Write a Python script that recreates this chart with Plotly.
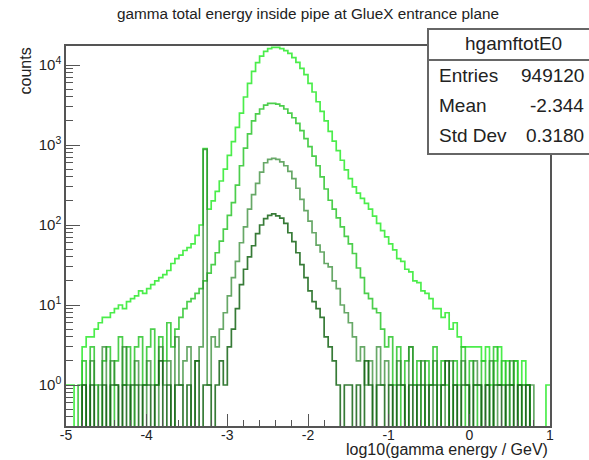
import numpy as np
import plotly.graph_objects as go

# ---------------- data (counts per bin) ----------------
x_lo, x_hi, n_bins = -5.0, 1.0, 120

total_E0 = [
    1, 1, 0, 0, 3, 4, 4, 5, 6, 7,
    7, 8, 9, 10, 9, 11, 12, 13, 15, 14,
    16, 18, 20, 22, 24, 27, 33, 38, 42, 48,
    52, 58, 74, 100, 900, 158, 200, 263, 355, 500,
    741, 1100, 1660, 2510, 3980, 5890, 8320, 10700, 12900, 14800,
    16000, 16600, 16600, 16000, 15100, 14000, 12400, 10800, 9100, 7600,
    5900, 4600, 3470, 2630, 2000, 1480, 1120, 850, 645, 490,
    380, 300, 250, 215, 186, 158, 129, 105, 85, 71,
    58, 49, 38, 35, 28, 26, 20, 19, 15, 14,
    12, 9, 9, 7, 8, 5, 6, 4, 3, 3,
    3, 3, 3, 2, 3, 1, 2, 3, 1, 2,
    1, 2, 1, 2, 1, 0, 0, 0, 0, 1,
]
comp_2 = [
    0, 0, 0, 1, 2, 0, 3, 1, 0, 2,
    3, 0, 2, 4, 1, 3, 0, 3, 4, 1,
    3, 5, 1, 4, 2, 6, 3, 5, 7, 9,
    11, 12, 14, 16, 20, 25, 32, 45, 63, 89,
    132, 190, 316, 550, 912, 1380, 2000, 2450, 2820, 3160,
    3310, 3310, 3240, 3090, 2820, 2510, 2190, 1860, 1510, 1200,
    955, 725, 550, 400, 282, 204, 158, 123, 95, 72,
    58, 44, 29, 22, 14, 12, 9, 8, 5, 3,
    4, 1, 3, 0, 2, 3, 1, 2, 0, 2,
    1, 3, 0, 2, 1, 0, 2, 1, 3, 0,
    2, 1, 0, 2, 1, 0, 3, 1, 2, 0,
    1, 2, 0, 1, 1, 0, 0, 0, 0, 0,
]
comp_3 = [
    0, 0, 0, 0, 1, 0, 2, 0, 1, 3,
    0, 2, 1, 0, 3, 1, 0, 2, 1, 0,
    2, 1, 0, 3, 1, 2, 0, 4, 1, 2,
    3, 0, 2, 3, 880, 1, 4, 3, 5, 8,
    13, 22, 35, 60, 95, 158, 240, 331, 457, 600,
    660, 680, 660, 617, 550, 468, 380, 288, 209, 151,
    112, 80, 56, 46, 33, 30, 20, 16, 10, 8,
    6, 4, 2, 3, 1, 2, 0, 3, 1, 2,
    1, 0, 2, 1, 0, 3, 1, 0, 2, 1,
    0, 2, 1, 1, 0, 2, 1, 0, 2, 1,
    0, 2, 1, 0, 1, 2, 0, 1, 1, 0,
    2, 0, 1, 1, 0, 1, 0, 0, 0, 0,
]
comp_4 = [
    0, 0, 0, 0, 1, 0, 1, 0, 0, 1,
    0, 1, 1, 0, 1, 0, 1, 1, 0, 1,
    1, 0, 1, 2, 0, 1, 0, 1, 1, 0,
    1, 0, 2, 0, 1, 1, 0, 1, 2, 1,
    3, 5, 9, 18, 28, 40, 55, 78, 100, 120,
    132, 138, 130, 122, 105, 80, 62, 45, 32, 22,
    15, 11, 9, 7, 4, 3, 2, 1, 0, 1,
    1, 0, 1, 0, 2, 1, 0, 1, 1, 0,
    1, 0, 1, 1, 0, 1, 0, 1, 1, 0,
    1, 1, 0, 1, 2, 0, 1, 0, 1, 1,
    0, 1, 1, 0, 1, 0, 1, 1, 0, 1,
    1, 0, 1, 0, 1, 0, 0, 0, 0, 0,
]

x_tick_vals = [-5, -4, -3, -2, -1, 0, 1]
x_tick_text = ["-5", "-4", "-3", "-2", "-1", "0", "1"]
y_tick_vals = [1, 10, 100, 1000, 10000]
y_tick_text = ["10<sup>0</sup>", "10<sup>1</sup>", "10<sup>2</sup>", "10<sup>3</sup>", "10<sup>4</sup>"]

title_text = "gamma total energy inside pipe at GlueX entrance plane"
x_title = "log10(gamma energy / GeV)"
y_title = "counts"
stat_name = "hgamftotE0"
stat_labels = ["Entries", "Mean", "Std Dev"]
stat_values = ["949120", "-2.344", "0.3180"]

# ---------------- styling ----------------
series = [
    (total_E0, "rgba(55,235,55,0.90)"),
    (comp_2, "rgba(45,198,45,0.85)"),
    (comp_3, "rgba(45,135,45,0.72)"),
    (comp_4, "rgba(20,100,20,0.85)"),
]
FONT = "Liberation Sans, Arial, sans-serif"
TXT = "#222222"
FRAME = "#555555"

edges = np.linspace(x_lo, x_hi, n_bins + 1)

fig = go.Figure()
for vals, col in series:
    v = np.asarray(vals, dtype=float)
    v = np.where(v > 0, v, 1e-3)  # empty bins drop to the frame bottom
    fig.add_trace(go.Scatter(
        x=edges, y=np.append(v, v[-1]), mode="lines",
        line=dict(shape="hv", color=col, width=1.7),
        hoverinfo="skip", showlegend=False))

minor_y = [m * 10.0 ** e for e in range(-1, 5) for m in range(2, 10)]

fig.update_layout(
    width=589, height=460,
    margin=dict(l=66, r=39, t=46, b=34),
    paper_bgcolor="white", plot_bgcolor="white",
    font=dict(family=FONT, color=TXT),
    showlegend=False,
    title=dict(text=title_text, x=0.5, xref="paper", xanchor="center",
               y=1 - 14 / 460, yref="container", yanchor="middle",
               font=dict(size=15.3, color=TXT, family=FONT)),
    xaxis=dict(range=[x_lo, x_hi], tickmode="array", tickvals=x_tick_vals, ticktext=x_tick_text,
               ticks="inside", ticklen=12, tickwidth=1.3, tickcolor=FRAME,
               minor=dict(ticks="inside", ticklen=6, dtick=0.2, tick0=-5, tickcolor=FRAME, tickwidth=1.2),
               showline=True, mirror=True, linecolor=FRAME, linewidth=1.5,
               showgrid=False, zeroline=False, ticklabelstandoff=-5,
               tickfont=dict(size=14, color=TXT)),
    yaxis=dict(type="log", range=[-0.5125, 4.2375], tickmode="array",
               tickvals=y_tick_vals, ticktext=y_tick_text,
               ticks="inside", ticklen=14, tickwidth=1.3, tickcolor=FRAME,
               minor=dict(ticks="inside", ticklen=7, tickmode="array", tickvals=minor_y,
                          tickcolor=FRAME, tickwidth=1.2),
               showline=True, mirror=True, linecolor=FRAME, linewidth=1.5,
               showgrid=False, zeroline=False, tickfont=dict(size=15, color=TXT)),
)

# axis titles
fig.add_annotation(text=x_title, xref="paper", yref="paper", x=1.0, y=-(449 - 426) / 380,
                   xanchor="right", yanchor="middle", showarrow=False,
                   font=dict(size=16, color=TXT, family=FONT))
fig.add_annotation(text=y_title, xref="paper", yref="paper", x=(25 - 66) / 484, y=1.0,
                   xanchor="center", yanchor="top", textangle=-90, showarrow=False,
                   font=dict(size=16, color=TXT, family=FONT))

# stats box
def px_x(p):
    return (p - 66) / 484

def px_y(p):
    return (426 - p) / 380

fig.add_shape(type="rect", xref="paper", yref="paper",
              x0=px_x(428), x1=px_x(600), y0=px_y(154), y1=px_y(29),
              line=dict(color="#666666", width=2), fillcolor="white", layer="above")
fig.add_shape(type="line", xref="paper", yref="paper",
              x0=px_x(428), x1=px_x(600), y0=px_y(60), y1=px_y(60),
              line=dict(color="#666666", width=2), layer="above")
fig.add_annotation(text=stat_name, xref="paper", yref="paper", x=px_x(513), y=px_y(44),
                   xanchor="center", yanchor="middle", showarrow=False,
                   font=dict(size=19, color=TXT, family=FONT))
for i, (lab, val) in enumerate(zip(stat_labels, stat_values)):
    yy = px_y(75 + 30 * i)
    fig.add_annotation(text=lab, xref="paper", yref="paper", x=px_x(437), y=yy,
                       xanchor="left", yanchor="middle", showarrow=False,
                       font=dict(size=19, color=TXT, family=FONT))
    fig.add_annotation(text=val, xref="paper", yref="paper", x=px_x(586), y=yy,
                       xanchor="right", yanchor="middle", showarrow=False,
                       font=dict(size=19, color=TXT, family=FONT))

fig.write_html("out.html", config={"displayModeBar": False},
               post_script="document.body.style.margin='0px';document.body.style.padding='0px';")
